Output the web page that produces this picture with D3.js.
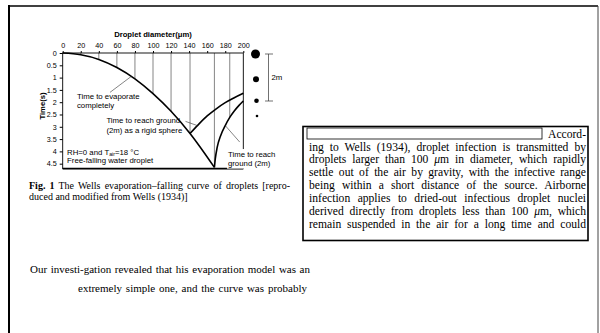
<!DOCTYPE html>
<html>
<head>
<meta charset="utf-8">
<script src="https://cdn.jsdelivr.net/npm/d3@7"></script>
<style>
  body { margin: 0; background: #fff; }
  svg { display: block; }
  .sans { font-family: "Liberation Sans", Arial, sans-serif; }
  .serif { font-family: "Liberation Serif", "Times New Roman", serif; }
</style>
</head>
<body>
<svg id="page" width="600" height="333"></svg>
<script>
// ---- data ----
const diameterTicks = [0, 20, 40, 60, 80, 100, 120, 140, 160, 180, 200];
const timeTicks = [0, 0.5, 1, 1.5, 2, 2.5, 3, 3.5, 4, 4.5];

// time to evaporate completely
const evapD = [0, 20, 40, 60, 80, 100, 120, 141, 168];
const evapT = [0, 0.07, 0.26, 0.59, 1.05, 1.65, 2.37, 3.27, 4.65];

// time to reach ground (2m) as a rigid sphere
const rigidD = [141, 150, 160, 170, 180, 190, 200];
const rigidT = [3.27, 2.92, 2.56, 2.27, 2.02, 1.82, 1.64];

// time to reach ground (2m) while evaporating
const groundD = [168, 169, 171, 175, 180, 185, 190, 195, 200];
const groundT = [4.65, 4.3, 3.85, 3.35, 2.95, 2.62, 2.36, 2.14, 1.95];

// vertical drop lines from the top axis down to the curves
const dropD = [20, 40, 60, 80, 100, 120, 141, 168, 185];
const dropT = [0.07, 0.26, 0.59, 1.05, 1.65, 2.37, 3.27, 4.65, 2.62];

// falling droplet sketch on the right (fall in metres, radius in px)
const dotFall = [0, 1.07, 1.99, 2.64];
const dotRadius = [4.5, 3, 2.3, 1.3];

const boxLines = [
  "ing to Wells (1934), droplet infection is transmitted by",
  "droplets larger than 100 μm in diameter, which rapidly",
  "settle out of the air by gravity, with the infective range",
  "being within a short distance of the source. Airborne",
  "infection applies to dried-out infectious droplet nuclei",
  "derived directly from droplets less than 100 μm, which",
  "remain suspended in the air for a long time and could"
];
const captionLines = [
  "The Wells evaporation–falling curve of droplets [repro-",
  "duced and modified from Wells (1934)]"
];
const bodyLines = [
  "Our investi-gation revealed that his evaporation model was an",
  "extremely simple one, and the curve was probably"
];

const svg = d3.select("#page");

// stretch a text line to a given width (word spacing, or squeeze if too long)
function justify(sel, width) {
  sel.each(function () {
    const n = this.getComputedTextLength();
    const spaces = (this.textContent.match(/ /g) || []).length;
    if (n < width && spaces) d3.select(this).attr("word-spacing", (width - n) / spaces);
    else d3.select(this).attr("textLength", width).attr("lengthAdjust", "spacingAndGlyphs");
  });
}

// page frame
svg.append("line").attr("x1", 9).attr("x2", 9).attr("y1", 5).attr("y2", 333)
  .attr("stroke", "#000").attr("stroke-width", 2);
svg.append("line").attr("x1", 8).attr("x2", 598).attr("y1", 6).attr("y2", 6)
  .attr("stroke", "#000").attr("stroke-width", 1.6);
svg.append("line").attr("x1", 598).attr("x2", 598).attr("y1", 6).attr("y2", 333)
  .attr("stroke", "#444").attr("stroke-width", 1);

// ---- chart ----
const x = d3.scaleLinear().domain([0, 200]).range([62.7, 243.3]);
const y = d3.scaleLinear().domain([0, 4.7]).range([53, 168.6]);

const chart = svg.append("g").attr("class", "sans");

chart.append("g")
  .selectAll("line")
  .data(dropD)
  .join("line")
  .attr("x1", d => x(d)).attr("x2", d => x(d))
  .attr("y1", y(0)).attr("y2", (d, i) => y(dropT[i]))
  .attr("stroke", "#333").attr("stroke-width", 0.6);

chart.append("rect")
  .attr("x", x(0)).attr("y", y(0))
  .attr("width", x(200) - x(0)).attr("height", y(4.7) - y(0))
  .attr("fill", "none").attr("stroke", "#000").attr("stroke-width", 0.9);
chart.append("line")
  .attr("x1", x(0)).attr("x2", x(200)).attr("y1", y(4.7)).attr("y2", y(4.7))
  .attr("stroke", "#000").attr("stroke-width", 1.6);

chart.append("g")
  .attr("transform", `translate(0,${y(0)})`)
  .call(d3.axisTop(x).tickValues(diameterTicks).tickSize(2).tickPadding(3))
  .call(g => g.select(".domain").remove())
  .call(g => g.selectAll("text").attr("font-size", 7.2))
  .attr("font-family", null);

chart.append("g")
  .attr("transform", `translate(${x(0)},0)`)
  .call(d3.axisLeft(y).tickValues(timeTicks).tickSize(3).tickPadding(3).tickFormat(d3.format("~g")))
  .call(g => g.select(".domain").remove())
  .call(g => g.selectAll("text").attr("font-size", 7.2))
  .attr("font-family", null);

chart.append("text")
  .attr("x", 153).attr("y", 37)
  .attr("text-anchor", "middle").attr("font-size", 7.7).attr("font-weight", "bold")
  .text("Droplet diameter(μm)");
chart.append("text")
  .attr("transform", "translate(45,106) rotate(-90)")
  .attr("text-anchor", "middle").attr("font-size", 7.7).attr("font-weight", "bold")
  .text("Time(s)");

const line = d3.line().curve(d3.curveMonotoneX).x(d => x(d[0])).y(d => y(d[1]));
[[evapD, evapT], [rigidD, rigidT], [groundD, groundT]].forEach(([ds, ts]) => {
  chart.append("path")
    .datum(ds.map((d, i) => [d, ts[i]]))
    .attr("d", line)
    .attr("fill", "none").attr("stroke", "#000").attr("stroke-width", 1.6);
});

// annotations (data units)
function label(lines, d, t, dt) {
  const g = chart.append("g");
  lines.forEach((s, i) => {
    g.append("text").attr("x", x(d)).attr("y", y(t + i * dt))
      .attr("font-size", 7.8).text(s);
  });
  return g;
}
function leader(d1, t1, d2, t2) {
  chart.append("line")
    .attr("x1", x(d1)).attr("y1", y(t1)).attr("x2", x(d2)).attr("y2", y(t2))
    .attr("stroke", "#333").attr("stroke-width", 0.6);
}

label(["Time to evaporate", "completely"], 15.8, 1.85, 0.39);
leader(52.4, 1.6, 76, 0.95);

label(["Time to reach ground", "(2m) as a rigid sphere"], 48.4, 2.85, 0.39);
leader(136, 2.78, 149, 2.95);

const right = label(["Time to reach", "ground (2m)"], 183, 4.23, 0.35);
const bb = right.node().getBBox();
right.insert("rect", "text")
  .attr("x", bb.x - 1).attr("y", bb.y - 1).attr("width", bb.width + 2).attr("height", bb.height + 2)
  .attr("fill", "#fff");
leader(180, 2.95, 196, 3.62);

const rh = chart.append("text").attr("x", x(4.8)).attr("y", y(4.13)).attr("font-size", 7.8);
rh.append("tspan").text("RH=0 and T");
rh.append("tspan").attr("font-size", 5.2).attr("dy", 1.5).text("air");
rh.append("tspan").attr("dy", -1.5).text("=18 °C");
chart.append("text").attr("x", x(4.8)).attr("y", y(4.47)).attr("font-size", 7.8)
  .text("Free-falling water droplet");

// falling droplet sketch
const fall = d3.scaleLinear().domain([0, 2]).range([54, 101]);
chart.append("g")
  .selectAll("circle")
  .data(dotFall)
  .join("circle")
  .attr("cx", (d, i) => 255.5 + i * 0.5)
  .attr("cy", d => fall(d))
  .attr("r", (d, i) => dotRadius[i])
  .attr("fill", "#000");
chart.append("path")
  .attr("d", `M265,${fall(0)}H273M268.5,${fall(0)}V${fall(2)}M265,${fall(2)}H273`)
  .attr("fill", "none").attr("stroke", "#333").attr("stroke-width", 0.7);
chart.append("text").attr("x", 271.5).attr("y", fall(1) + 2.7).attr("font-size", 7.8).text("2m");

// ---- caption ----
const cap = svg.append("g").attr("class", "serif").attr("font-size", 10);
const c1 = cap.append("text").attr("x", 29).attr("y", 189);
c1.append("tspan").attr("font-weight", "bold").text("Fig. 1");
c1.append("tspan").text(" " + captionLines[0]);
justify(c1, 261);
cap.append("text").attr("x", 29).attr("y", 199.5).text(captionLines[1]);

// ---- boxed text on the right ----
const box = svg.append("g").attr("class", "serif").attr("font-size", 11.6);
box.append("rect").attr("x", 303).attr("y", 126.5).attr("width", 285).attr("height", 114)
  .attr("fill", "#fff").attr("stroke", "#000").attr("stroke-width", 1.6);
box.append("rect").attr("x", 307).attr("y", 128).attr("width", 235).attr("height", 11)
  .attr("fill", "none").attr("stroke", "#000").attr("stroke-width", 0.8);
box.append("text").attr("x", 586).attr("y", 137.5).attr("text-anchor", "end").text("Accord-");
boxLines.forEach((s, i) => {
  const t = box.append("text").attr("x", 309).attr("y", 150.5 + i * 12.9);
  s.split("μ").forEach((part, j) => {
    if (j > 0) t.append("tspan").attr("font-style", "italic").text("μ");
    t.append("tspan").text(part);
  });
  justify(t, 277);
});

// ---- body text below ----
const body = svg.append("g").attr("class", "serif").attr("font-size", 11);
justify(body.append("text").attr("x", 30).attr("y", 273).text(bodyLines[0]), 280);
justify(body.append("text").attr("x", 78).attr("y", 292).text(bodyLines[1]), 229);
</script>
</body>
</html>
